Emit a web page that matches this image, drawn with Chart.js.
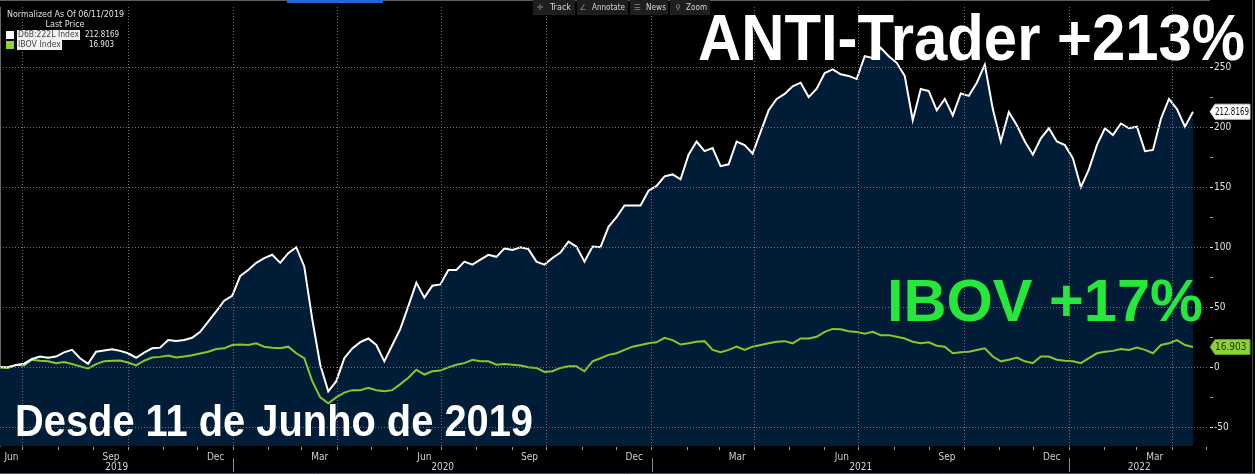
<!DOCTYPE html>
<html>
<head>
<meta charset="utf-8">
<script src="https://cdn.jsdelivr.net/npm/chart.js@4.4.1/dist/chart.umd.min.js"></script>
<style>
  html, body { margin: 0; padding: 0; background: #000; }
  #wrap { position: relative; width: 1255px; height: 474px; }
</style>
</head>
<body>
<div id="wrap"><canvas id="chart" width="1255" height="474"></canvas></div>
<script>
/* ── Dados: fechamentos semanais normalizados desde 11/06/2019 ── */
const START     = Date.UTC(2019, 5, 11);
const STEP_DAYS = 7;

const antiTrader = [
  0, 0, 2, 3, 7, 9, 8, 9, 12.5, 14.5,
  7.6, 3, 13, 14, 15, 13.7, 11.7, 8, 12.3, 15.8,
  16.4, 22.7, 22, 22.7, 24.6, 29.5, 38, 46.5, 55.5, 59.6,
  76, 81, 87, 91, 93.7, 87, 95, 100, 84, 40,
  2, -20, -11.5, 7.6, 15.8, 21, 24, 18.6, 5, 18.6,
  32, 51, 70.5, 58, 68, 69, 81, 81, 88, 85.5,
  89.6, 93.7, 92, 99, 97.8, 100, 98.4, 88, 85.5, 91,
  95.6, 104.6, 100.5, 88, 100.5, 100, 117, 125, 134.7, 134.7,
  134.7, 147, 151, 159, 160.6, 156.6, 177, 188, 180, 182.5,
  167.5, 169, 188, 185, 178, 196, 214, 223.5, 227.6, 234,
  237, 225, 232, 245, 248, 244, 242.6, 240, 259, 257.6,
  266, 259, 253.5, 242.6, 205.7, 231.7, 230, 214, 223.5, 209.8,
  228, 226, 237, 252, 215, 188, 212.5, 201.6, 188, 177,
  190.7, 199, 188, 185, 174, 150, 164.8, 185, 199, 193.4,
  203, 199, 200.3, 180, 181, 207, 223.5, 215, 200.3, 212.8169
];

const ibov = [
  0, -0.5, 2, 1.6, 6.3, 5.5, 5, 3.5, 4.4, 2.7,
  0.8, -1, 2.7, 5, 5.5, 5.7, 4, 1.6, 5.5, 8.2,
  8.7, 9.8, 8.2, 9, 10, 11.5, 13, 15.3, 15.8, 18.6,
  19, 18.6, 20, 17.2, 16.4, 15.8, 17.2, 11.7, 7.6, -11.5,
  -25, -30, -25, -21, -19, -19, -17, -19, -20, -19,
  -14, -8.7, -2, -6, -3.3, -2.7, 0, 2.2, 3.5, 6.3,
  5, 5, 2.2, 2.7, 2.2, 1.6, 0, -0.5, -3.8, -3.3,
  -0.5, 0.8, 0.8, -3.3, 5, 7.6, 10.4, 11.7, 14.5, 17.2,
  18.6, 20, 20.8, 24.6, 22.7, 19, 20, 21.3, 21.8, 14.5,
  12.5, 14.5, 17.2, 14.5, 17.2, 18.6, 20, 21.3, 21.8, 20,
  24, 24, 25.4, 29.5, 32, 31.7, 30, 29.5, 28, 29.5,
  26.8, 26.8, 25.4, 24, 21.3, 20, 20.8, 18, 17.2, 11.7,
  12.5, 13, 14.5, 15.8, 9, 5, 6.3, 8.2, 5, 3.5,
  9, 9, 6.3, 5.5, 5, 3.5, 7.6, 11.7, 13, 13.7,
  15.3, 14.5, 16.4, 14.5, 11.7, 18.6, 20, 22.7, 18.6, 16.903
];

const yLabels     = [-50, 0, 50, 100, 150, 200, 250];
const monthLabels = [['Jun', 2019, 6], ['Sep', 2019, 9], ['Dec', 2019, 12],
                     ['Mar', 2020, 3], ['Jun', 2020, 6], ['Sep', 2020, 9], ['Dec', 2020, 12],
                     ['Mar', 2021, 3], ['Jun', 2021, 6], ['Sep', 2021, 9], ['Dec', 2021, 12],
                     ['Mar', 2022, 3]];
const years       = [2019, 2020, 2021, 2022];

const X_MAX = 1057;
const Y_MIN = -65.5;
const Y_MAX = 300;

const NARROW = '"Liberation Sans Narrow", "DejaVu Sans Condensed", "Liberation Sans", Arial, sans-serif';

/* ── Helpers de datas ── */
const dayOf = (y, m, d) => (Date.UTC(y, m - 1, d) - START) / 864e5;

// início de cada mês visível (marcas) e de cada trimestre (grade)
const monthStarts = [];
for (let y = 2019; y <= 2022; y++) {
  for (let m = 1; m <= 12; m++) {
    const d = dayOf(y, m, 1);
    if (d > 0 && d <= X_MAX) monthStarts.push({ d, q: (m - 1) % 3 === 0 });
  }
}
// posição do rótulo: meio da parte visível do mês
const labelPos = monthLabels.map(([name, y, m]) => {
  const a = Math.max(0, dayOf(y, m, 1));
  const b = dayOf(y, m + 1, 1);
  return { d: (a + b) / 2, name };
});

const xTickKind = new Map();
monthStarts.forEach(t => xTickKind.set(t.d, t.q ? 'quarter' : 'month'));
labelPos.forEach(t => xTickKind.set(t.d, 'label:' + t.name));

const toPoints = arr => arr.map((v, i) => ({ x: i * STEP_DAYS, y: v }));

// texto comprimido na horizontal quando passa da largura disponível
function fitText(ctx, text, x, y, maxW, align = 'left') {
  const w = ctx.measureText(text).width;
  const k = w > maxW ? maxW / w : 1;
  ctx.save();
  ctx.translate(x, y);
  ctx.scale(k, 1);
  ctx.textAlign = align;
  ctx.fillText(text, 0, 0);
  ctx.restore();
}

/* ── Plugin: decorações no estilo do terminal ── */
const terminalDecor = {
  id: 'terminalDecor',
  afterDraw(chart) {
    const { ctx, chartArea: ca, scales: { x, y } } = chart;
    ctx.save();

    // anos e separadores
    ctx.font = '10px ' + NARROW;
    ctx.fillStyle = '#cfcfcf';
    ctx.textAlign = 'center';
    ctx.textBaseline = 'middle';
    years.forEach(yr => {
      const a = Math.max(0, x.getPixelForValue(dayOf(yr, 1, 1)));
      const b = Math.min(ca.right, x.getPixelForValue(dayOf(yr + 1, 1, 1)));
      ctx.fillText(String(yr), (a + b) / 2, 467);
      if (yr > 2019) {
        ctx.strokeStyle = '#8a8a8a';
        ctx.lineWidth = 1;
        ctx.beginPath();
        ctx.moveTo(Math.round(a) + 0.5, 458);
        ctx.lineTo(Math.round(a) + 0.5, 472);
        ctx.stroke();
      }
    });

    // bordas
    ctx.strokeStyle = '#2a5a8a';
    ctx.beginPath(); ctx.moveTo(0, 473.5); ctx.lineTo(1255, 473.5); ctx.stroke();
    ctx.strokeStyle = '#444';
    ctx.beginPath(); ctx.moveTo(1252.5, 0); ctx.lineTo(1252.5, 474); ctx.stroke();

    // barra azul no topo
    ctx.fillStyle = '#2467d8';
    ctx.fillRect(287, 0, 96, 3);

    // legenda
    ctx.font = '9px ' + NARROW;
    ctx.textBaseline = 'middle';
    ctx.fillStyle = '#e0e0e0';
    fitText(ctx, 'Normalized As Of 06/11/2019', 7, 15, 117);
    fitText(ctx, 'Last Price', 65, 25, 44, 'center');
    const rows = [
      { sq: '#ffffff', name: 'D6B:222L Index', w: 63, val: '212.8169', vx: 119, vw: 34, cy: 35 },
      { sq: '#8dd33a', name: 'IBOV Index',     w: 45, val: '16.903',   vx: 114, vw: 25, cy: 45 }
    ];
    rows.forEach(r => {
      ctx.fillStyle = r.sq;
      ctx.fillRect(6, r.cy - 4, 8, 8);
      ctx.fillStyle = '#f2f2f2';
      ctx.fillRect(17, r.cy - 5, r.w, 10);
      ctx.fillStyle = '#444';
      fitText(ctx, r.name, 18, r.cy, r.w - 2);
      ctx.fillStyle = '#e8e8e8';
      fitText(ctx, r.val, r.vx, r.cy, r.vw, 'right');
    });

    // barra de ferramentas
    const tools = [
      { x0: 533, x1: 575, icon: '\u271B', ix: 540, label: 'Track',    tx: 550, tw: 22 },
      { x0: 577, x1: 628, icon: '\u2220', ix: 583, label: 'Annotate', tx: 592, tw: 33 },
      { x0: 630, x1: 668, icon: '\u2630', ix: 637, label: 'News',     tx: 646, tw: 20 },
      { x0: 670, x1: 710, icon: '\u26B2', ix: 678, label: 'Zoom',     tx: 686, tw: 21 }
    ];
    tools.forEach(t => {
      ctx.fillStyle = '#1e1e1e';
      ctx.fillRect(t.x0, 0, t.x1 - t.x0, 15);
      ctx.fillStyle = '#8a8a8a';
      ctx.font = '8px "DejaVu Sans", sans-serif';
      fitText(ctx, t.icon, t.ix, 8, 9, 'center');
      ctx.fillStyle = '#d6d6d6';
      ctx.font = '9px ' + NARROW;
      fitText(ctx, t.label, t.tx, 8, t.tw);
    });

    // etiquetas do último preço no eixo
    const tag = (val, text, fill, stroke, color) => {
      const py = y.getPixelForValue(val);
      ctx.beginPath();
      ctx.moveTo(ca.right + 1, py);
      ctx.lineTo(ca.right + 6, py - 7.5);
      ctx.lineTo(1250, py - 7.5);
      ctx.lineTo(1250, py + 7.5);
      ctx.lineTo(ca.right + 6, py + 7.5);
      ctx.closePath();
      ctx.fillStyle = fill;
      ctx.fill();
      ctx.strokeStyle = stroke;
      ctx.lineWidth = 1;
      ctx.stroke();
      ctx.fillStyle = color;
      ctx.font = '10px ' + NARROW;
      ctx.textBaseline = 'middle';
      fitText(ctx, text, ca.right + 6, py + 0.5, 34);
    };
    tag(antiTrader[antiTrader.length - 1], '212.8169', '#ffffff', '#cccccc', '#111');
    tag(ibov[ibov.length - 1], '16.903', '#8cd23a', '#5d9a22', '#1c3300');

    // títulos grandes
    const big = (text, x0, base, size, width, color) => {
      ctx.save();
      ctx.font = `bold ${size}px "Liberation Sans", Arial, sans-serif`;
      const w = ctx.measureText(text).width;
      ctx.translate(x0, base);
      ctx.scale(width / w, 1);
      ctx.fillStyle = color;
      ctx.textAlign = 'left';
      ctx.textBaseline = 'alphabetic';
      ctx.fillText(text, 0, 0);
      ctx.restore();
    };
    big('ANTI-Trader +213%', 698, 60, 64, 547, '#ffffff');
    big('IBOV +17%', 887, 321, 60, 316, '#25e83a');
    big('Desde 11 de Junho de 2019', 15, 436, 45, 518, '#ffffff');

    ctx.restore();
  }
};

new Chart(document.getElementById('chart'), {
  type: 'line',
  data: {
    datasets: [
      {
        label: 'D6B:222L Index',
        data: toPoints(antiTrader),
        borderColor: '#ffffff',
        borderWidth: 2,
        backgroundColor: '#011c37',
        fill: 'start',
        pointRadius: 0,
        tension: 0,
        order: 0
      },
      {
        label: 'IBOV Index',
        data: toPoints(ibov),
        borderColor: '#86c72c',
        borderWidth: 2,
        fill: false,
        pointRadius: 0,
        tension: 0,
        order: 1
      }
    ]
  },
  options: {
    responsive: false,
    animation: false,
    layout: { padding: 0 },
    plugins: {
      legend: { display: false },
      tooltip: { enabled: false },
      filler: { drawTime: 'beforeDatasetsDraw' }
    },
    scales: {
      x: {
        type: 'linear',
        min: 0,
        max: X_MAX,
        afterBuildTicks: s => {
          s.ticks = [...xTickKind.keys()].sort((a, b) => a - b).map(v => ({ value: v }));
        },
        afterFit: s => { s.height = 28; },
        grid: {
          z: 1,
          tickLength: 4,
          color: c => xTickKind.get(c.tick && c.tick.value) === 'quarter' ? '#6b7078' : 'rgba(0,0,0,0)',
          tickColor: c => {
            const k = xTickKind.get(c.tick && c.tick.value) || '';
            return k.startsWith('label') ? 'rgba(0,0,0,0)' : '#9a9a9a';
          }
        },
        border: { display: true, color: '#b8b8b8', dash: [1, 2] },
        ticks: {
          autoSkip: false,
          maxRotation: 0,
          padding: 1,
          color: '#cfcfcf',
          font: { family: NARROW, size: 10 },
          callback: v => {
            const k = xTickKind.get(v) || '';
            return k.startsWith('label:') ? k.slice(6) : '';
          }
        }
      },
      y: {
        type: 'linear',
        position: 'right',
        min: Y_MIN,
        max: Y_MAX,
        afterBuildTicks: s => {
          const t = [];
          for (let v = -50; v <= 275; v += 25) t.push({ value: v });
          s.ticks = t;
        },
        afterFit: s => { s.width = 46; },
        grid: {
          z: 1,
          tickLength: 4,
          color: c => yLabels.includes(c.tick && c.tick.value) ? '#6b7078' : 'rgba(0,0,0,0)',
          tickColor: c => yLabels.includes(c.tick && c.tick.value) ? '#e6e6e6' : '#9a9a9a'
        },
        border: { display: true, color: '#d0d0d0', dash: [1, 2] },
        ticks: {
          padding: 1,
          color: '#e0e0e0',
          font: { family: NARROW, size: 10 },
          callback: v => yLabels.includes(v) ? String(v) : ''
        }
      }
    }
  },
  plugins: [terminalDecor]
});
</script>
</body>
</html>
